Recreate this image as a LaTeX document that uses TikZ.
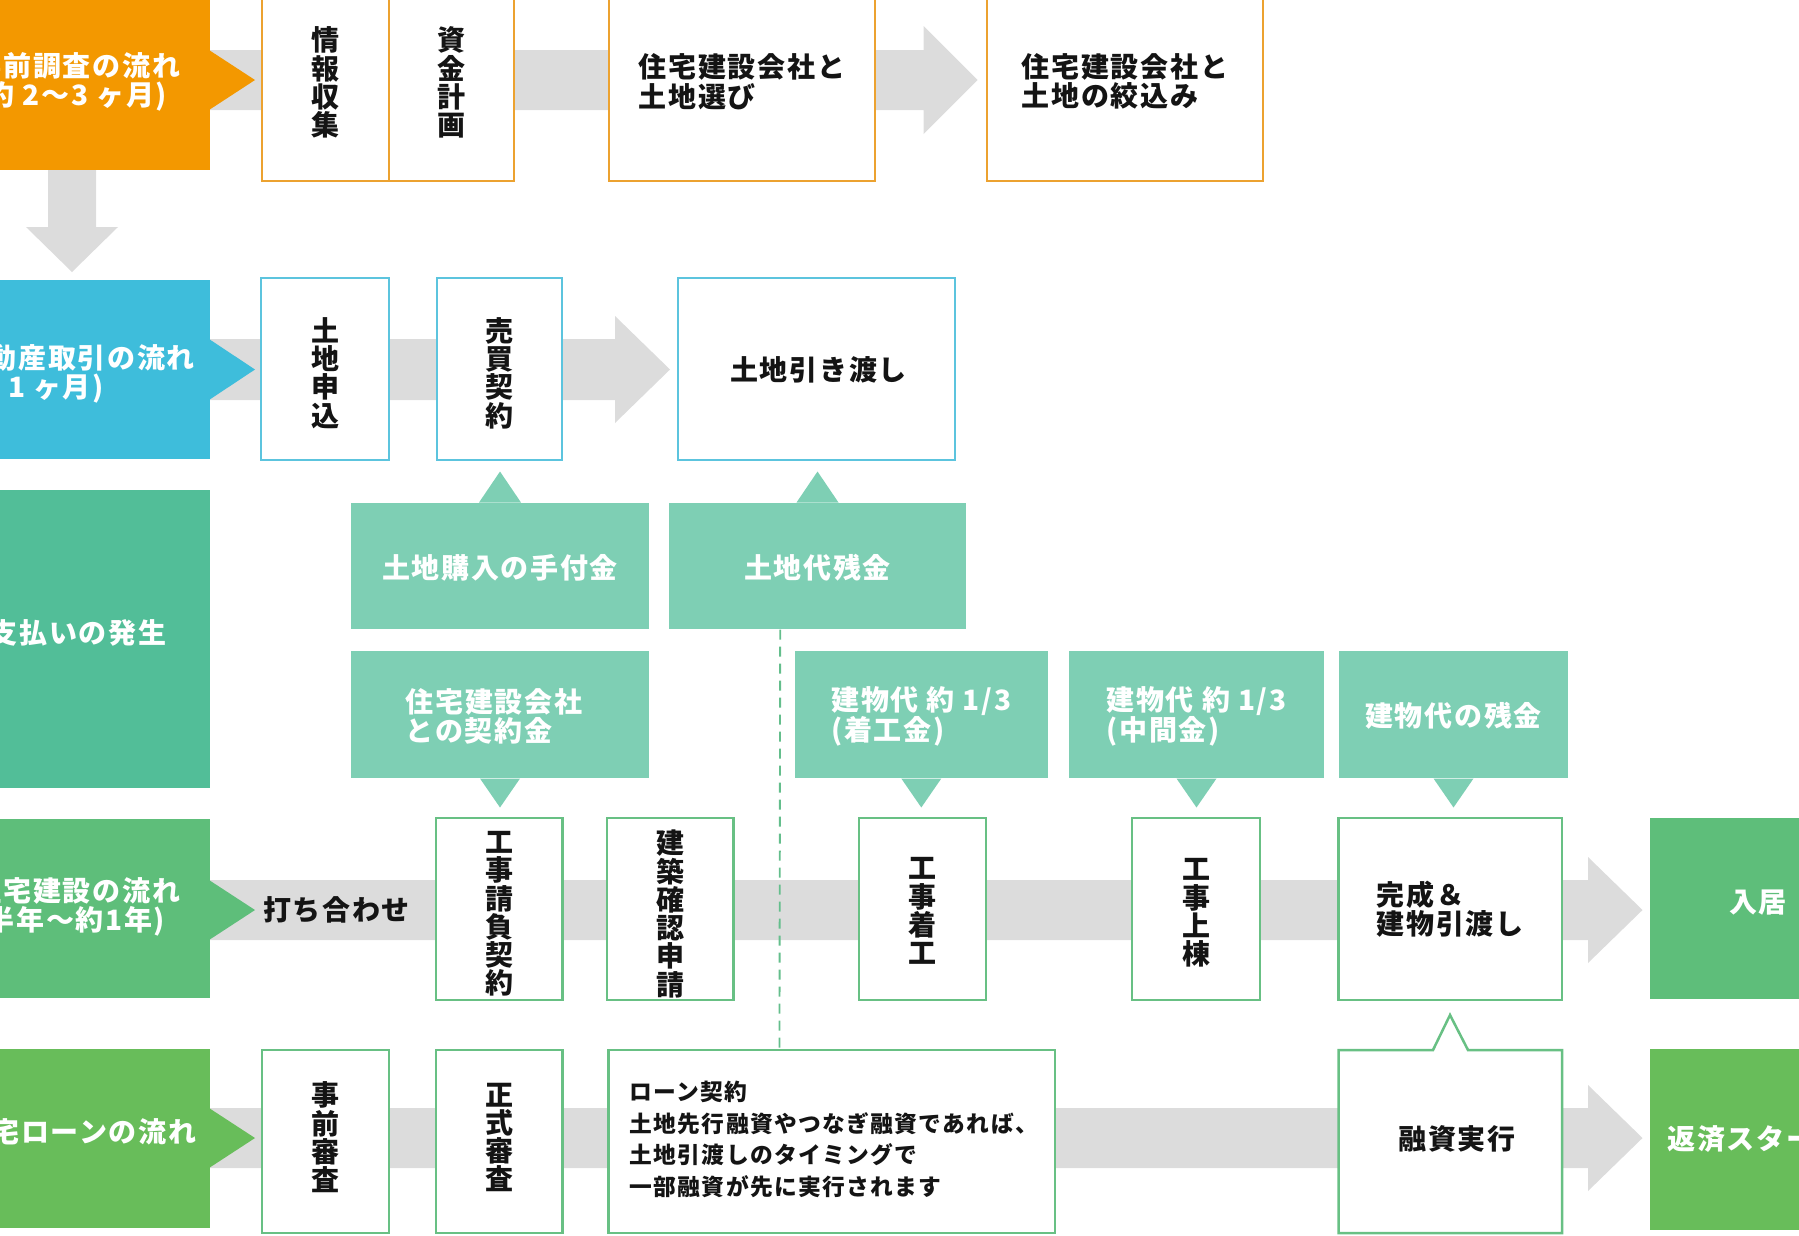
\documentclass[tikz,border=0pt]{standalone}
\usepackage{fontspec}
\setmainfont{Noto Sans CJK JP}[LetterSpace=6]
\usetikzlibrary{calc,fit}
\definecolor{orL}{RGB}{243,152,0}
\definecolor{orB}{RGB}{236,162,48}
\definecolor{blL}{RGB}{62,189,219}
\definecolor{blB}{RGB}{92,196,222}
\definecolor{payL}{RGB}{82,190,152}
\definecolor{mint}{RGB}{126,207,180}
\definecolor{gnL}{RGB}{94,190,122}
\definecolor{lnL}{RGB}{104,189,90}
\definecolor{gnB}{RGB}{104,192,132}
\definecolor{bandg}{RGB}{220,220,220}
\definecolor{ink}{RGB}{20,20,20}
\definecolor{dashc}{RGB}{100,190,140}
\begin{document}
\begin{tikzpicture}[x=0.4pt,y=-0.4pt,
  lab/.style={fill=#1,draw=none,inner sep=0pt},
  wbox/.style={draw=#1,fill=white,line width=1pt,inner sep=0pt},
  big/.style={font=\fontsize{11.2}{11.8}\selectfont\bfseries},
  vt/.style={font=\fontsize{11.2}{11.3}\selectfont\bfseries,align=center,text=ink,inner sep=0pt},
  bt/.style={big,align=left,text=ink,inner sep=0pt},
  wt/.style={big,align=left,text=white,inner sep=0pt},
  pay/.style={fill=mint,draw=none,inner sep=0pt},
  band/.style={fill=bandg},
  dashln/.style={draw=dashc,line width=0.75pt,dash pattern=on 4pt off 2.8pt}]
\useasboundingbox (0,0) rectangle (1799,1235);
\clip (0,0) rectangle (1799,1235);

% ---------- gray bands ----------
\fill[band] (209.5,50) -- (923.6,50) -- (923.6,26) -- (977.5,80) -- (923.6,134) -- (923.6,110) -- (209.5,110) -- cycle;
\fill[band] (48,170) -- (96,170) -- (96,227) -- (118,227) -- (72,272) -- (26,227) -- (48,227) -- cycle;
\fill[band] (209.5,339) -- (615,339) -- (615,316) -- (670,369.5) -- (615,423) -- (615,400) -- (209.5,400) -- cycle;
\fill[band] (209.5,880) -- (1588,880) -- (1588,857) -- (1642.5,910) -- (1588,963) -- (1588,940) -- (209.5,940) -- cycle;
\fill[band] (209.5,1108) -- (1588,1108) -- (1588,1085) -- (1642.5,1138) -- (1588,1191) -- (1588,1168) -- (209.5,1168) -- cycle;

% ---------- row 1 ----------
\node[lab=orL,fit={(-10,-10) (209.5,170)}] (L1) {};
\fill[orL] (209,50) -- (255,80) -- (209,110) -- cycle;
\node[wt] (L1t) at (77,82) {事前調査の流れ\\(約 2〜3 ヶ月)};
\node[wbox=orB,fit={(262,-10) (389,181)}] (b11) {};
\node[wbox=orB,fit={(389,-10) (514,181)}] (b12) {};
\node[wbox=orB,fit={(609,-10) (875,181)}] (b13) {};
\node[wbox=orB,fit={(987,-10) (1263,181)}] (b14) {};
\node[vt] (b11t) at ($(b11.center)+(0,-3)$) {情\\報\\収\\集};
\node[vt] (b12t) at ($(b12.center)+(0,-3)$) {資\\金\\計\\画};
\node[bt] (b13t) at ($(b13.center)+(0,-4)$) {住宅建設会社と\\土地選び};
\node[bt] (b14t) at ($(b14.center)+(0,-4)$) {住宅建設会社と\\土地の絞込み};

% ---------- row 2 ----------
\node[lab=blL,fit={(-10,280) (209.5,459)}] (L2) {};
\fill[blL] (209,339) -- (255,369.5) -- (209,400) -- cycle;
\node[wt] (L2t) at (77,374) {不動産取引の流れ\\(約 1 ヶ月)};
\node[wbox=blB,fit={(261,278) (389,460)}] (b21) {};
\node[wbox=blB,fit={(437,278) (562,460)}] (b22) {};
\node[wbox=blB,fit={(678,278) (955,460)}] (b23) {};
\node[vt] (b21t) at ($(b21.center)+(0,4)$) {土\\地\\申\\込};
\node[vt] (b22t) at ($(b22.center)+(0,4)$) {売\\買\\契\\約};
\node[bt] (b23t) at ($(b23.center)+(2,1)$) {土地引き渡し};

% ---------- row 3 (payments) ----------
\node[lab=payL,fit={(-10,490) (209.5,788)}] (L3) {};
\node[wt] (L3t) at (78,633) {支払いの発生};
\node[pay,fit={(351,503) (649,629)}] (c1) {};
\node[pay,fit={(669,503) (966,629)}] (c2) {};
\node[pay,fit={(351,651) (649,778)}] (c3) {};
\node[pay,fit={(794.6,651) (1048,778)}] (c4) {};
\node[pay,fit={(1069,651) (1324,778)}] (c5) {};
\node[pay,fit={(1339,651) (1568,778)}] (c6) {};
\node[wt] (c1t) at ($(c1.center)+(0,2)$) {土地購入の手付金};
\node[wt] (c2t) at ($(c2.center)+(0,2)$) {土地代残金};
\node[wt] (c3t) at ($(c3.center)+(-6,2)$) {住宅建設会社\\との契約金};
\node[wt] (c4t) at ($(c4.center)+(0,2)$) {建物代 約 1/3\\(着工金)};
\node[wt] (c5t) at ($(c5.center)+(0,2)$) {建物代 約 1/3\\(中間金)};
\node[wt] (c6t) at ($(c6.center)+(0,1)$) {建物代の残金};
\fill[mint] ($(c1.north)+(-21,0)$) -- ($(c1.north)+(0,-31)$) -- ($(c1.north)+(21,0)$) -- cycle;
\fill[mint] ($(c2.north)+(-21,0)$) -- ($(c2.north)+(0,-31)$) -- ($(c2.north)+(21,0)$) -- cycle;
\foreach \c in {c3,c4,c5,c6}
  \fill[mint] ($(\c.south)+(-20,0)$) -- ($(\c.south)+(0,29)$) -- ($(\c.south)+(20,0)$) -- cycle;

% ---------- row 4 ----------
\node[lab=gnL,fit={(-10,819) (209.5,998)}] (L4) {};
\fill[gnL] (209,880) -- (255,910) -- (209,940) -- cycle;
\node[wt] (L4t) at (77,907) {住宅建設の流れ\\(半年〜約1年)};
\node[bt] (t41) at (336.5,910) {打ち合わせ};
\node[wbox=gnB,fit={(436,818) (562.6,1000)}] (b41) {};
\node[wbox=gnB,fit={(606.8,818) (733.6,1000)}] (b42) {};
\node[wbox=gnB,fit={(859,818) (986,1000)}] (b43) {};
\node[wbox=gnB,fit={(1132,818) (1260,1000)}] (b44) {};
\node[wbox=gnB,fit={(1338.6,818) (1562,1000)}] (b45) {};
\node[vt] (b41t) at ($(b41.center)+(0,5)$) {工\\事\\請\\負\\契\\約};
\node[vt] (b42t) at ($(b42.center)+(0,5)$) {建\\築\\確\\認\\申\\請};
\node[vt] (b43t) at ($(b43.center)+(0,2)$) {工\\事\\着\\工};
\node[vt] (b44t) at ($(b44.center)+(0,4)$) {工\\事\\上\\棟};
\node[bt] (b45t) at ($(b45.center)+(0,0)$) {完成＆\\建物引渡し};
\node[lab=gnL,fit={(1650,818) (1810,999)}] (b46) {};
\node[wt] (b46t) at (1758,903) {入居};

% ---------- row 5 ----------
\node[lab=lnL,fit={(-10,1049) (209.5,1228)}] (L5) {};
\fill[lnL] (209,1108) -- (255,1138) -- (209,1168) -- cycle;
\node[wt] (L5t) at (79,1132) {住宅ローンの流れ};
\node[wbox=gnB,fit={(262,1050) (389,1233)}] (b51) {};
\node[wbox=gnB,fit={(436,1050) (562.6,1233)}] (b52) {};
\node[wbox=gnB,fit={(608.5,1050) (1055,1233)}] (b53) {};
\node[vt] (b51t) at ($(b51.center)+(0,-4)$) {事\\前\\審\\査};
\node[vt] (b52t) at ($(b52.center)+(0,-4)$) {正\\式\\審\\査};
\node[align=left,text=ink,inner sep=0pt,
      font=\fontsize{9.1}{12.6}\selectfont\bfseries] (b53t) at ($(b53.center)+(2,-2)$)
  {ローン契約\\土地先行融資やつなぎ融資であれば、\\土地引渡しのタイミングで\\一部融資が先に実行されます};
\filldraw[draw=gnB,fill=white,line width=1pt,line join=miter]
  (1338.6,1233) -- (1338.6,1050) -- (1433,1050) -- (1450,1015) -- (1468,1050)
  -- (1562,1050) -- (1562,1233) -- cycle;
\node[bt] (b54) at (1457,1139) {融資実行};
\node[lab=lnL,fit={(1650,1049) (1810,1230)}] (b55) {};
\node[wt,anchor=west] (b55t) at (1667,1139) {返済スタート};

% ---------- dashed link ----------
\draw[dashln] ($(c2.south west)+(111.7,0)$) -- ($(b53.north west)+(172.2,0)$);
\end{tikzpicture}
\end{document}
